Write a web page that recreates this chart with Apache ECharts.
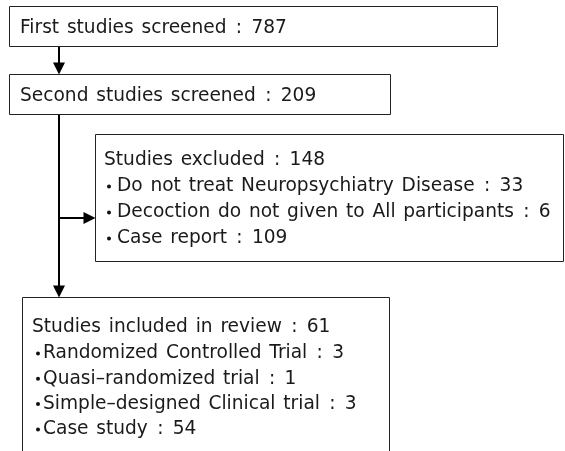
<!DOCTYPE html>
<html>
<head>
<meta charset="utf-8">
<script src="https://cdn.jsdelivr.net/npm/echarts@6/dist/echarts.min.js"></script>
<style>
  html, body { margin: 0; padding: 0; background: #fff; }
  #chart { width: 565px; height: 451px; }
</style>
</head>
<body>
<div id="chart"></div>
<script>
// flow counts
const stepTitles = ['First studies screened', 'Second studies screened'];
const stepCounts = [787, 209];
const excludedTitle = 'Studies excluded';
const excludedTotal = 148;
const excludedReasons = ['Do not treat Neuropsychiatry Disease', 'Decoction do not given to All participants', 'Case report'];
const excludedCounts = [33, 6, 109];
const includedTitle = 'Studies included in review';
const includedTotal = 61;
const includedTypes = ['Randomized Controlled Trial', 'Quasi\u2013randomized trial', 'Simple\u2013designed Clinical trial', 'Case study'];
const includedCounts = [3, 1, 3, 54];

// layout (pixels)
const boxes = {
  first:    { x: 9.5,  y: 6.5,   w: 488, h: 40 },
  second:   { x: 9.5,  y: 74.5,  w: 381, h: 40 },
  excluded: { x: 95.5, y: 134.5, w: 468, h: 127 },
  included: { x: 22.5, y: 297.5, w: 367, h: 170 }
};
const FONT = '"DejaVu Sans", sans-serif';
const FS = 18.6;
const SEP = '\u2002:\u2002';

const chart = echarts.init(document.getElementById('chart'));

function rect(b) {
  return { type: 'rect', shape: { x: b.x, y: b.y, width: b.w, height: b.h },
    style: { fill: '#fff', stroke: '#222', lineWidth: 1 } };
}
// slightly wider word gaps, like the original typeface
function label(words, count) {
  return words.split(' ').join(' \u200A') + SEP + count;
}
function text(str, x, y) {
  return { type: 'text', x: x, y: y + 1.5, style: { text: str, font: FS + 'px ' + FONT, fill: '#1a1a1a', textVerticalAlign: 'middle' } };
}
function bullet(x, y) {
  return { type: 'circle', shape: { cx: x, cy: y + 1.5, r: 2 }, style: { fill: '#111' } };
}
function line(x1, y1, x2, y2) {
  return { type: 'line', shape: { x1, y1, x2, y2 }, style: { stroke: '#000', lineWidth: 2 } };
}
function headDown(x, tip) {
  return { type: 'polygon', shape: { points: [[x - 6, tip - 12], [x + 6, tip - 12], [x, tip]] }, style: { fill: '#000' } };
}
function headRight(tip, y) {
  return { type: 'polygon', shape: { points: [[tip - 12, y - 6], [tip - 12, y + 6], [tip, y]] }, style: { fill: '#000' } };
}

const els = [];
const trunkX = 59;
// connectors
els.push(line(trunkX, boxes.first.y + boxes.first.h, trunkX, boxes.second.y - 10));
els.push(headDown(trunkX, boxes.second.y));
els.push(line(trunkX, boxes.second.y + boxes.second.h, trunkX, boxes.included.y - 10));
els.push(headDown(trunkX, boxes.included.y));
els.push(line(trunkX, 218, boxes.excluded.x - 10, 218));
els.push(headRight(boxes.excluded.x, 218));

// boxes
Object.keys(boxes).forEach(k => els.push(rect(boxes[k])));

// texts
els.push(text(label(stepTitles[0], stepCounts[0]), 20, 27));
els.push(text(label(stepTitles[1], stepCounts[1]), 20, 95));

els.push(text(label(excludedTitle, excludedTotal), 104, 159));
excludedReasons.forEach((r, i) => {
  const y = 185 + i * 26;
  els.push(bullet(109, y));
  els.push(text(label(r, excludedCounts[i]), 117, y));
});

els.push(text(label(includedTitle, includedTotal), 32, 326));
includedTypes.forEach((t, i) => {
  const y = 352 + i * 25.3;
  els.push(bullet(38, y));
  els.push(text(label(t, includedCounts[i]), 43, y));
});

chart.setOption({
  backgroundColor: '#fff',
  animation: false,
  graphic: { elements: els }
});
</script>
</body>
</html>
